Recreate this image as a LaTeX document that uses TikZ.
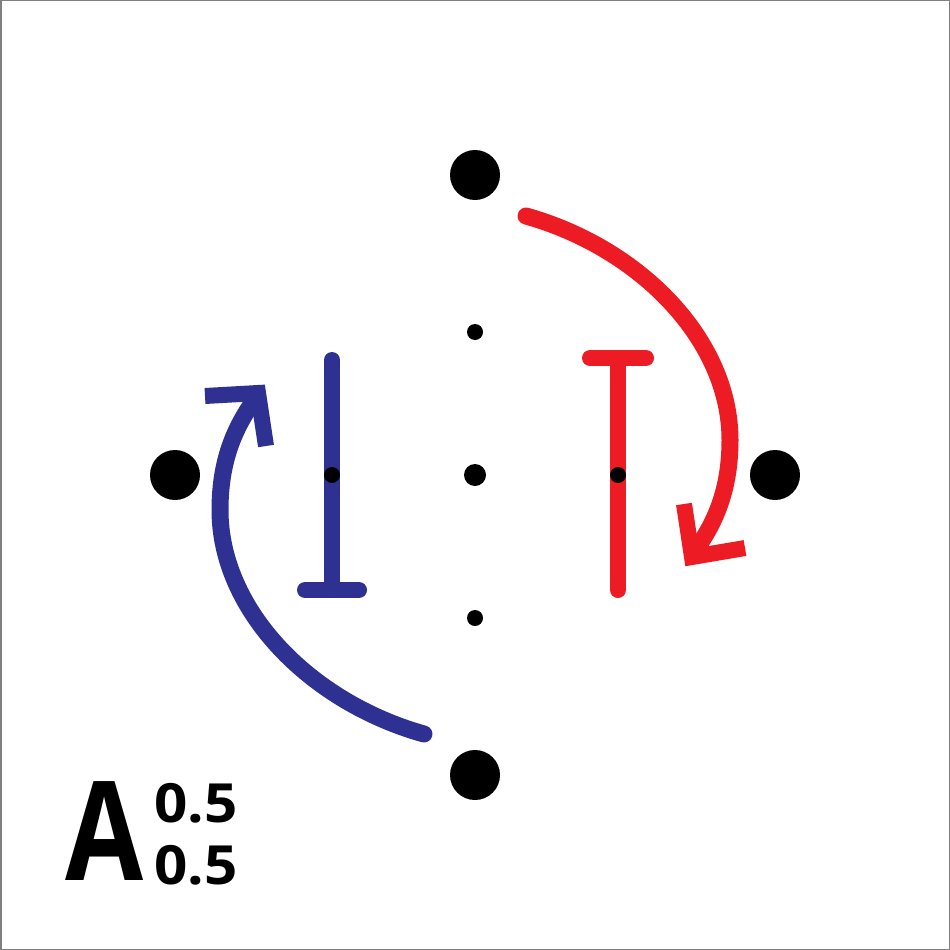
\documentclass[tikz,border=0pt]{standalone}
\usepackage{fontspec}
\setmainfont{Open Sans}
\definecolor{myblue}{HTML}{2E3192}
\definecolor{myred}{HTML}{ED1C24}
\begin{document}
\begin{tikzpicture}[x=1pt,y=-1pt,
  bigdot/.style={circle,fill=black,minimum size=50pt,inner sep=0pt},
  middot/.style={circle,fill=black,minimum size=22pt,inner sep=0pt},
  smalldot/.style={circle,fill=black,minimum size=16pt,inner sep=0pt},
  stroke/.style={line width=16pt,line cap=round,line join=round},
  arcstroke/.style={line width=17pt,line cap=round,line join=round},
  tip/.style={line width=16pt,line cap=butt,line join=miter},
  digits/.style={anchor=base west,inner sep=0pt,xscale=1.08,font=\bfseries\fontsize{54}{54}\selectfont}]
\useasboundingbox (0,0) rectangle (950,950);
\draw[gray,line width=1.5pt] (0.75,0.75) rectangle (949.25,949.25);
% bars
\draw[stroke,myblue] (332,360) coordinate (b1) -- (332,590) coordinate (b2);
\draw[stroke,myblue] (305,590) -- (359,590);
\draw[stroke,myred] (618,358) coordinate (r1) -- (618,590) coordinate (r2);
\draw[stroke,myred] (590,358) -- (646,358);
% dots
\node[bigdot] (top) at (475,175) {};
\node[bigdot] (left) at (175,475) {};
\node[bigdot] (right) at (775,475) {};
\node[bigdot] (bottom) at (475,775) {};
\node[middot] (c) at (475,475) {};
\node[smalldot] (ct) at (475,332) {};
\node[smalldot] (cb) at (475,618) {};
\node[smalldot] (cl) at (332,475) {};
\node[smalldot] (cr) at (618,475) {};
% red arc
\coordinate (rs) at (526,216);
\coordinate (re) at (697,548);
\draw[arcstroke,myred] (rs) .. controls (640,248) and (730,340) .. (730,440) .. controls (730,485) and (718,518) .. (re);
\draw[tip,myred] (684,504) -- (692,557) -- (745,548);
% blue arc
\coordinate (bs) at (424,734);
\coordinate (be) at (253,402);
\draw[arcstroke,myblue] (bs) .. controls (310,702) and (220,610) .. (220,510) .. controls (220,465) and (232,432) .. (be);
\draw[tip,myblue] (205,396) -- (258,393) -- (266,446);
% label
\node[anchor=base west,inner sep=0pt,xscale=0.82,font=\bfseries\fontsize{138}{138}\selectfont] (A) at (65,880) {A};
\node[digits] (s1) at (154,822) {0.5};
\node[digits] (s2) at (154,884) {0.5};
\end{tikzpicture}
\end{document}
